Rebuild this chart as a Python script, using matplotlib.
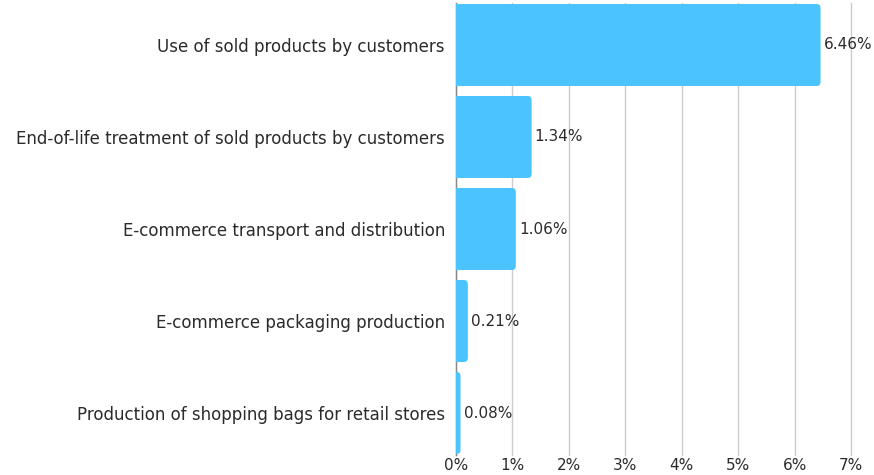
import matplotlib
matplotlib.use("Agg")
import matplotlib.pyplot as plt
from matplotlib.patches import FancyBboxPatch

categories = [
    "Use of sold products by customers",
    "End-of-life treatment of sold products by customers",
    "E-commerce transport and distribution",
    "E-commerce packaging production",
    "Production of shopping bags for retail stores",
]
values = [6.46, 1.34, 1.06, 0.21, 0.08]
value_labels = ["6.46%", "1.34%", "1.06%", "0.21%", "0.08%"]
x_ticks = [0, 1, 2, 3, 4, 5, 6, 7]
x_tick_labels = ["0%", "1%", "2%", "3%", "4%", "5%", "6%", "7%"]

plt.rcParams["font.family"] = ["DejaVu Sans"]

W, H = 874, 475
fig = plt.figure(figsize=(W / 100, H / 100), dpi=100)
left_px, right_px, top_px, bottom_px = 456, 851, 3, 455
ax = fig.add_axes([left_px / W, 1 - bottom_px / H,
                   (right_px - left_px) / W, (bottom_px - top_px) / H])

x_max = 7
y_lo, y_hi = -0.4565, 4.4565
ax.set_xlim(0, x_max)
ax.set_ylim(y_hi, y_lo)

bar_color = "#4BC4FE"
text_color = "#2b2b2b"
bar_h = 0.891
fs_cat = 12
fs_val = 11

# rounding radius in pixels converted to data units
px_x = x_max / (right_px - left_px)
px_y = (y_hi - y_lo) / (bottom_px - top_px)
r_px = 4
r = r_px * px_x
aspect = px_y / px_x

for i, v in enumerate(values):
    patch = FancyBboxPatch((-r, i - bar_h / 2), v + r, bar_h,
                           boxstyle=f"round,pad=0,rounding_size={r}",
                           mutation_aspect=aspect,
                           facecolor=bar_color, edgecolor="none", zorder=3)
    ax.add_patch(patch)
    ax.text(v + 3 * px_x, i, value_labels[i], va="center", ha="left",
            fontsize=fs_val, color=text_color, zorder=4)

ax.set_yticks(range(len(categories)))
ax.set_yticklabels(categories, fontsize=fs_cat, color=text_color)
ax.set_xticks(x_ticks)
ax.set_xticklabels(x_tick_labels, fontsize=fs_val, color=text_color)
ax.tick_params(axis="both", length=0)
ax.tick_params(axis="y", pad=8)
ax.tick_params(axis="x", pad=2)

ax.grid(axis="x", color="#cccccc", linewidth=1, zorder=0)
for gl in ax.get_xgridlines():
    gl.set_clip_on(False)
for side in ["top", "right", "bottom"]:
    ax.spines[side].set_visible(False)
ax.spines["left"].set_color("#888888")
ax.spines["left"].set_linewidth(1)
ax.spines["left"].set_zorder(2)

fig.savefig("out.png", dpi=100)
